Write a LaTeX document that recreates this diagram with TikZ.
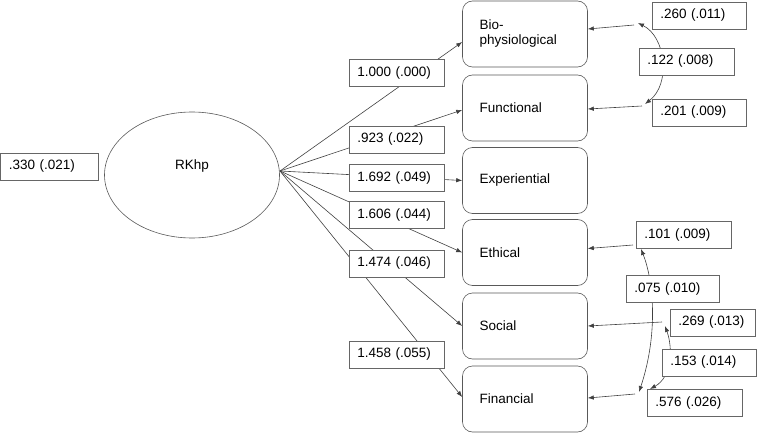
\documentclass[tikz,border=0pt]{standalone}
\usepackage{fontspec}
\setmainfont{Liberation Sans}
\usetikzlibrary{shapes.geometric,arrows.meta,backgrounds}
\begin{document}
\begin{tikzpicture}[x=1pt,y=-1pt,
  font=\fontsize{13.5}{15}\selectfont,
  lab/.style={draw=black!60, fill=white, line width=0.6pt, minimum height=27pt,
    inner xsep=8pt, inner ysep=0pt, anchor=west, align=left, text width=#1},
  ind/.style={draw=black!65, fill=white, line width=0.6pt, rounded corners=10pt,
    minimum height=66pt, text width=91pt, inner xsep=17pt, align=left},
  lat/.style={ellipse, draw=black!65, line width=0.6pt, minimum width=175pt,
    minimum height=126pt, inner sep=0pt},
  conn/.style={draw=black!75, line width=0.6pt},
  arr/.style={conn, -{Latex[length=6pt,width=4.5pt]}},
  darr/.style={conn, {Latex[length=6pt,width=4.5pt]}-{Latex[length=6pt,width=4.5pt]}}
]
\useasboundingbox (0,0) rectangle (765,433);

% latent
\node[lat] (rk) at (192,175) {};
\node (rktext) at (192,166) {RKhp};
\coordinate (src) at (280,171);

% indicators
\node[ind] (bio) at (525,34) {Bio-\\physiological};
\node[ind] (func) at (525,108) {Functional};
\node[ind] (exp) at (525,180.5) {Experiential};
\node[ind] (eth) at (525,252.5) {Ethical};
\node[ind] (soc) at (525,326) {Social};
\node[ind] (fin) at (525,399) {Financial};

% latent variance
\node[lab=81pt] (v0) at (0.5,166.5) {.330 (.021)};

% loading labels
\node[lab=79pt] (l1) at (349,73) {1.000 (.000)};
\node[lab=79pt] (l2) at (349,139.5) {.923 (.022)};
\node[lab=79pt] (l3) at (349,178) {1.692 (.049)};
\node[lab=79pt] (l4) at (349,215) {1.606 (.044)};
\node[lab=79pt] (l5) at (349,263.5) {1.474 (.046)};
\node[lab=79pt] (l6) at (349,354.5) {1.458 (.055)};

% error labels
\node[lab=78pt] (v1) at (652,15.5) {.260 (.011)};
\node[lab=79pt] (c12) at (639,61.5) {.122 (.008)};
\node[lab=78pt] (v2) at (652,112.5) {.201 (.009)};
\node[lab=79pt] (v4) at (636,235) {.101 (.009)};
\node[lab=77pt] (c46) at (626,289) {.075 (.010)};
\node[lab=69pt] (v5) at (670,322.5) {.269 (.013)};
\node[lab=78pt] (c56) at (662,362.5) {.153 (.014)};
\node[lab=79pt] (v6) at (647,403) {.576 (.026)};

% error points
\coordinate (e1) at (634,25);
\coordinate (e2) at (642,106);
\coordinate (e4) at (633,245);
\coordinate (e5) at (662,322);
\coordinate (e6) at (635,394);
\coordinate (e1c) at (638,23);
\coordinate (e2c) at (645,104);
\coordinate (e4c) at (641,249);
\coordinate (e6c) at (639,392);
\coordinate (e5c) at (665,326);
\coordinate (e6d) at (650,389);

\begin{scope}[on background layer]
  % loadings
  \draw[arr] (src) -- ([yshift=-8pt]bio.west);
  \draw[arr] (src) -- ([yshift=-2pt]func.west);
  \draw[arr] (src) -- (exp.west);
  \draw[arr] (src) -- (eth.west);
  \draw[arr] (src) -- (soc.west);
  \draw[arr] (src) -- ([yshift=2pt]fin.west);
  % errors
  \draw[arr] (e1) -- ([yshift=5pt]bio.east);
  \draw[arr] (e2) -- ([yshift=-1pt]func.east);
  \draw[arr] (e4) -- ([yshift=4pt]eth.east);
  \draw[arr] (e5) -- (soc.east);
  \draw[arr] (e6) -- ([yshift=1pt]fin.east);
  % covariances
  \draw[darr] (e1c) .. controls +(28,14) and +(26,-20) .. (e2c);
  \draw[darr] (e4c) .. controls +(12,30) and +(20,-60) .. (e6c);
  \draw[darr] (e5c) .. controls +(8,22) and +(22,-12) .. (e6d);
\end{scope}
\end{tikzpicture}
\end{document}
